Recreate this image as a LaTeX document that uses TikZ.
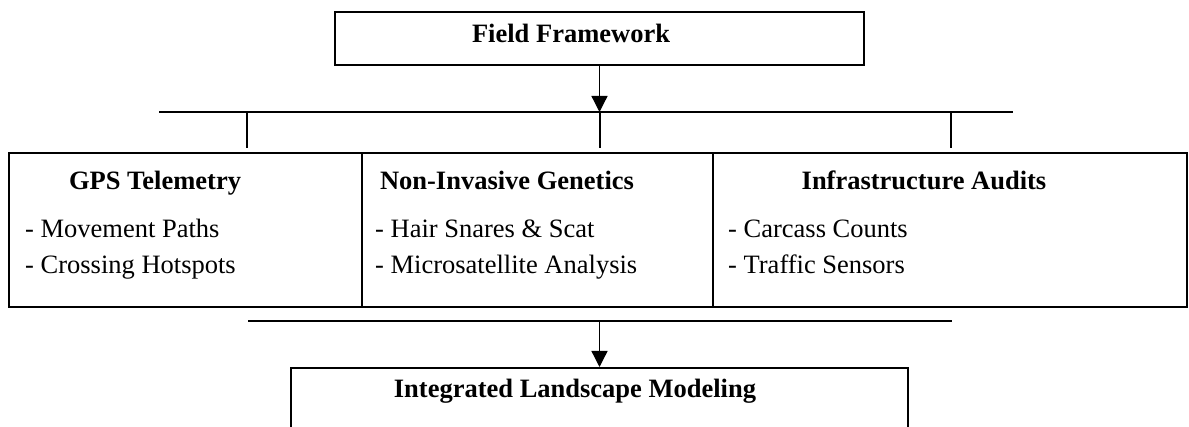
\documentclass[tikz,border=0pt]{standalone}
\usepackage{fontspec}
\setmainfont{Liberation Serif}
\usetikzlibrary{arrows.meta}
\begin{document}
\begin{tikzpicture}[x=1pt,y=-1pt,
  box/.style={draw=black, line width=2pt, inner sep=0pt},
  lbl/.style={font=\fontsize{26.5}{30}\selectfont\bfseries, inner sep=0pt, anchor=base},
  item/.style={font=\fontsize{26.5}{30}\selectfont, inner sep=0pt, anchor=base west},
  link/.style={line width=2pt},
  bus/.style={line width=2.4pt},
  arr/.style={line width=1.3pt, -{Triangle[width=16pt,length=16pt]}}]
\useasboundingbox (0,0) rectangle (1189,427);
% boxes
\node[box, minimum width=529pt, minimum height=53pt] (top) at (599.5,38.5) {};
\node[box, minimum width=353pt, minimum height=154pt] (gps) at (185.5,230) {};
\node[box, minimum width=351pt, minimum height=154pt] (gen) at (537.5,230) {};
\node[box, minimum width=474pt, minimum height=154pt] (inf) at (950,230) {};
\node[box, minimum width=617pt, minimum height=70pt] (bot) at (599.5,403) {};
% texts
\node[lbl] (ttop) at (571,43) {Field Framework};
\node[lbl] (tgps) at (155,190) {GPS Telemetry};
\node[lbl] (tgen) at (507,190) {Non-Invasive Genetics};
\node[lbl] (tinf) at (924,190) {Infrastructure Audits};
\node[lbl] (tbot) at (575,398) {Integrated Landscape Modeling};
\node[item] (g1) at (25,238) {- Movement Paths};
\node[item] (g2) at (25,274) {- Crossing Hotspots};
\node[item] (n1) at (375,238) {- Hair Snares \& Scat};
\node[item] (n2) at (375,274) {- Microsatellite Analysis};
\node[item] (i1) at (728,238) {- Carcass Counts};
\node[item] (i2) at (728,274) {- Traffic Sensors};
% upper bus
\coordinate (uL) at (159,112);
\coordinate (uR) at (1013,112);
\coordinate (uM) at (599.5,112);
\coordinate (d1) at (247,148);
\coordinate (d2) at (599.5,148);
\coordinate (d3) at (951,148);
\draw[arr] (top.south) -- (uM);
\draw[bus] (uL) -- (uR);
\draw[link] (d1 |- uL) -- (d1);
\draw[link] (uM) -- (d2);
\draw[link] (d3 |- uL) -- (d3);
% lower bus
\coordinate (lL) at (248,321);
\coordinate (lR) at (952,321);
\coordinate (lM) at (599.5,321);
\draw[bus] (lL) -- (lR);
\draw[arr] (lM) -- (bot.north);
\end{tikzpicture}
\end{document}
